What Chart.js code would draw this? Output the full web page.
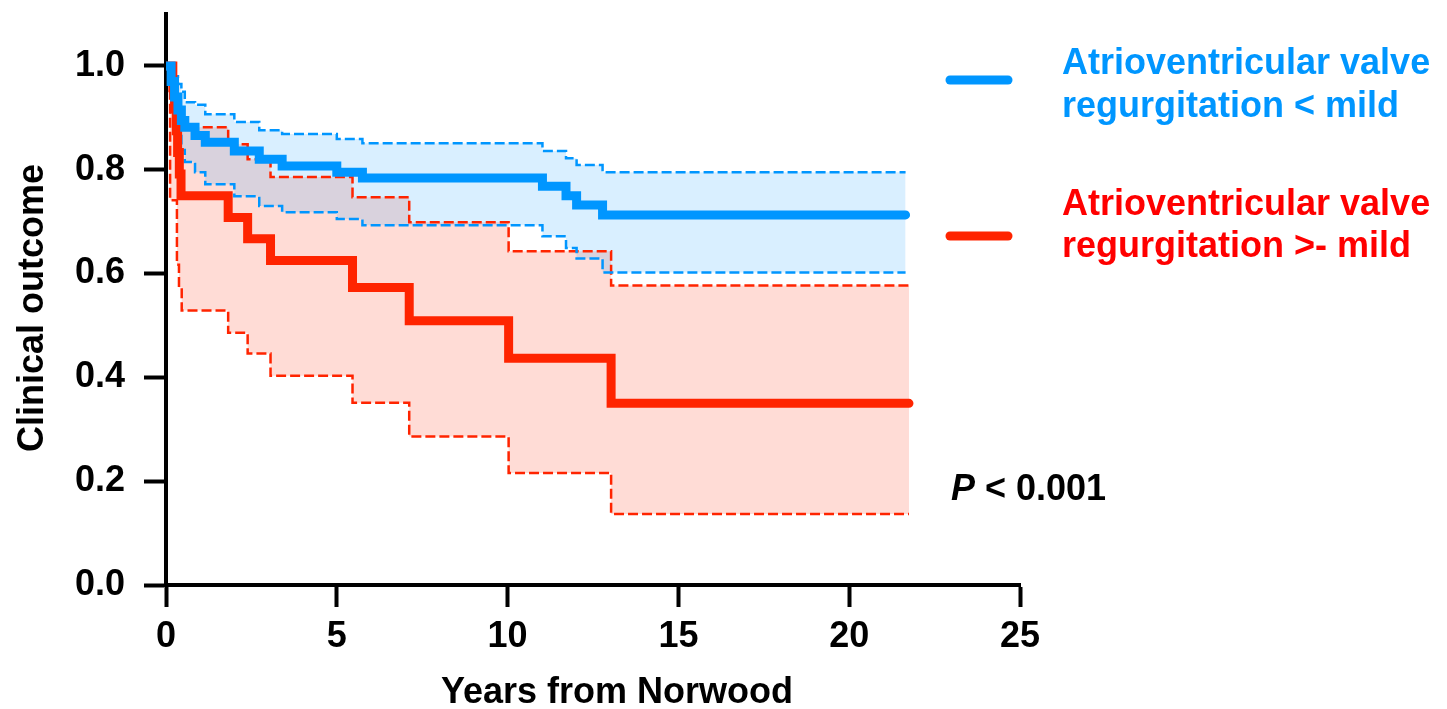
<!DOCTYPE html>
<html><head><meta charset="utf-8">
<script src="https://cdn.jsdelivr.net/npm/chart.js@4.4.1/dist/chart.umd.min.js"></script>
<style>html,body{margin:0;padding:0;background:#fff;} #wrap{position:relative;width:1447px;height:709px;} canvas{display:block;}</style>
</head><body><div id="wrap"><canvas id="c" width="1447" height="709"></canvas></div>
<script>
// ---------- data ----------
const blueTimes = [0, 0.15, 0.25, 0.35, 0.45, 0.55, 0.85, 1.15, 2.0, 2.73, 3.4, 5.0, 5.75, 11.02, 11.71, 12.02, 12.78, 21.65];
const blueEst   = [1, 0.97, 0.94, 0.915, 0.895, 0.882, 0.866, 0.853, 0.836, 0.82, 0.807, 0.795, 0.784, 0.768, 0.75, 0.732, 0.713, 0.713];
const blueUpper = [1, 0.995, 0.98, 0.965, 0.95, 0.93, 0.925, 0.907, 0.892, 0.876, 0.869, 0.859, 0.851, 0.836, 0.822, 0.809, 0.795, 0.795];
const blueLower = [1, 0.94, 0.9, 0.865, 0.838, 0.815, 0.795, 0.772, 0.749, 0.73, 0.718, 0.705, 0.693, 0.672, 0.649, 0.629, 0.602, 0.602];

const redTimes  = [0, 0.2, 0.25, 0.3, 0.34, 0.39, 0.44, 1.82, 2.39, 3.06, 5.46, 7.12, 10.03, 13.03, 21.75];
const redEst    = [1, 0.958, 0.917, 0.875, 0.833, 0.792, 0.75, 0.708, 0.667, 0.625, 0.573, 0.509, 0.437, 0.35, 0.35];
const redUpper  = [1, 0.995, 0.98, 0.96, 0.94, 0.91, 0.882, 0.849, 0.82, 0.786, 0.747, 0.699, 0.643, 0.577, 0.577];
const redLowerTimes = [0, 0.12, 0.32, 0.38, 0.46, 1.82, 2.39, 3.06, 5.46, 7.12, 10.03, 13.03, 21.75];
const redLower  = [1, 0.741, 0.617, 0.573, 0.529, 0.486, 0.446, 0.403, 0.351, 0.286, 0.216, 0.137, 0.137];

const legendLabels = [
  ['Atrioventricular valve', 'regurgitation < mild'],
  ['Atrioventricular valve', 'regurgitation >- mild']
];
const xTitle = 'Years from Norwood';
const yTitle = 'Clinical outcome';
const pLabel = 'P';
const pRest = ' < 0.001';

// ---------- styles ----------
const FONT = "'Liberation Sans', Arial, sans-serif";
const BLUE = 'rgb(0,150,255)';
const RED = 'rgb(255,36,0)';
const RED_TEXT = 'rgb(255,0,0)';
const BLUE_FILL = 'rgba(0,150,255,0.15)';
const RED_FILL = 'rgba(255,40,0,0.16)';

function pts(ts, vs) { return ts.map((t, i) => ({ x: t, y: vs[i] })); }

const dashed = { borderWidth: 2.5, borderDash: [10, 4], pointRadius: 0, stepped: 'before', tension: 0, borderCapStyle: 'butt' };
const solid = { borderWidth: 9, pointRadius: 0, stepped: 'before', tension: 0, borderCapStyle: 'round', borderJoinStyle: 'miter', fill: false };

const datasets = [
  Object.assign({ label: 'blue', data: pts(blueTimes, blueEst), borderColor: BLUE, order: 0 }, solid),
  Object.assign({ label: 'red', data: pts(redTimes, redEst), borderColor: RED, order: 1 }, solid),
  Object.assign({ label: 'blueU', data: pts(blueTimes, blueUpper), borderColor: BLUE, backgroundColor: BLUE_FILL, fill: '+1', order: 2 }, dashed),
  Object.assign({ label: 'blueL', data: pts(blueTimes, blueLower), borderColor: BLUE, fill: false, order: 3 }, dashed),
  Object.assign({ label: 'redU', data: pts(redTimes, redUpper), borderColor: RED, backgroundColor: RED_FILL, fill: '+1', order: 4 }, dashed),
  Object.assign({ label: 'redL', data: pts(redLowerTimes, redLower), borderColor: RED, fill: false, order: 5 }, dashed)
];

const isMajorY = v => Math.round(v * 10) % 2 === 0;
const isMajorX = v => Math.round(v) % 5 === 0;

const decor = {
  id: 'decor',
  afterDraw(chart) {
    const ctx = chart.ctx, a = chart.chartArea;
    const xs = chart.scales.x, ys = chart.scales.y;
    ctx.save();
    // minor ticks
    ctx.strokeStyle = '#000'; ctx.lineWidth = 4; ctx.lineCap = 'butt';
    ys.ticks.forEach(t => {
      if (!isMajorY(t.value)) {
        const py = Math.round(ys.getPixelForValue(t.value));
        ctx.beginPath(); ctx.moveTo(a.left - 13, py); ctx.lineTo(a.left, py); ctx.stroke();
      }
    });
    xs.ticks.forEach(t => {
      if (!isMajorX(t.value)) {
        const px = Math.round(xs.getPixelForValue(t.value));
        ctx.beginPath(); ctx.moveTo(px, a.bottom); ctx.lineTo(px, a.bottom + 13); ctx.stroke();
      }
    });
    // axis titles
    ctx.fillStyle = '#000';
    ctx.font = 'bold 36px ' + FONT;
    ctx.textAlign = 'center'; ctx.textBaseline = 'alphabetic';
    ctx.fillText(xTitle, 617, 703);
    ctx.save();
    ctx.translate(43, 308); ctx.rotate(-Math.PI / 2);
    ctx.fillText(yTitle, 0, 0);
    ctx.restore();
    // P value
    ctx.textAlign = 'left';
    ctx.font = 'italic bold 36px ' + FONT;
    ctx.fillText(pLabel, 951, 500);
    const pw = ctx.measureText(pLabel).width;
    ctx.font = 'bold 36px ' + FONT;
    ctx.fillText(pRest, 951 + pw, 500);
    // legend
    const items = [
      { c: BLUE, tc: BLUE, ly: 80, b: [74, 117] },
      { c: RED, tc: RED_TEXT, ly: 236, b: [215, 257] }
    ];
    items.forEach((it, i) => {
      ctx.strokeStyle = it.c; ctx.lineWidth = 9; ctx.lineCap = 'round';
      ctx.beginPath(); ctx.moveTo(950, it.ly); ctx.lineTo(1008, it.ly); ctx.stroke();
      ctx.fillStyle = it.tc;
      ctx.font = 'bold 36px ' + FONT;
      legendLabels[i].forEach((s, j) => ctx.fillText(s, 1062, it.b[j]));
    });
    ctx.restore();
  }
};

new Chart(document.getElementById('c'), {
  type: 'line',
  data: { datasets },
  options: {
    responsive: false,
    animation: false,
    layout: { padding: { left: 0, right: 427, top: 14, bottom: 0 } },
    plugins: {
      legend: { display: false },
      tooltip: { enabled: false },
      filler: { drawTime: 'beforeDatasetsDraw' }
    },
    scales: {
      x: {
        type: 'linear', min: 0, max: 25,
        afterFit: s => { s.height = 124; s.paddingLeft = 0; s.paddingRight = 0; },
        border: { display: true, color: '#000', width: 4 },
        grid: { drawOnChartArea: false, tickLength: 22, tickWidth: 4,
                tickColor: c => (c.tick && isMajorX(c.tick.value)) ? '#000' : 'rgba(0,0,0,0)' },
        ticks: { stepSize: 1, autoSkip: false, maxRotation: 0, padding: 8, color: '#000',
                 font: { family: FONT, size: 36, weight: 'bold' },
                 callback: v => isMajorX(v) ? String(Math.round(v)) : null }
      },
      y: {
        type: 'linear', min: 0, max: 1.1,
        afterFit: s => { s.width = 166; s.paddingTop = 0; s.paddingBottom = 0; },
        border: { display: true, color: '#000', width: 4 },
        grid: { drawOnChartArea: false, tickLength: 22, tickWidth: 4,
                tickColor: c => (c.tick && isMajorY(c.tick.value)) ? '#000' : 'rgba(0,0,0,0)' },
        ticks: { stepSize: 0.1, autoSkip: false, padding: 19, color: '#000',
                 font: { family: FONT, size: 36, weight: 'bold' },
                 callback: v => isMajorY(v) ? (Math.round(v * 10) / 10).toFixed(1) : null }
      }
    }
  },
  plugins: [decor]
});
</script>
</body></html>
